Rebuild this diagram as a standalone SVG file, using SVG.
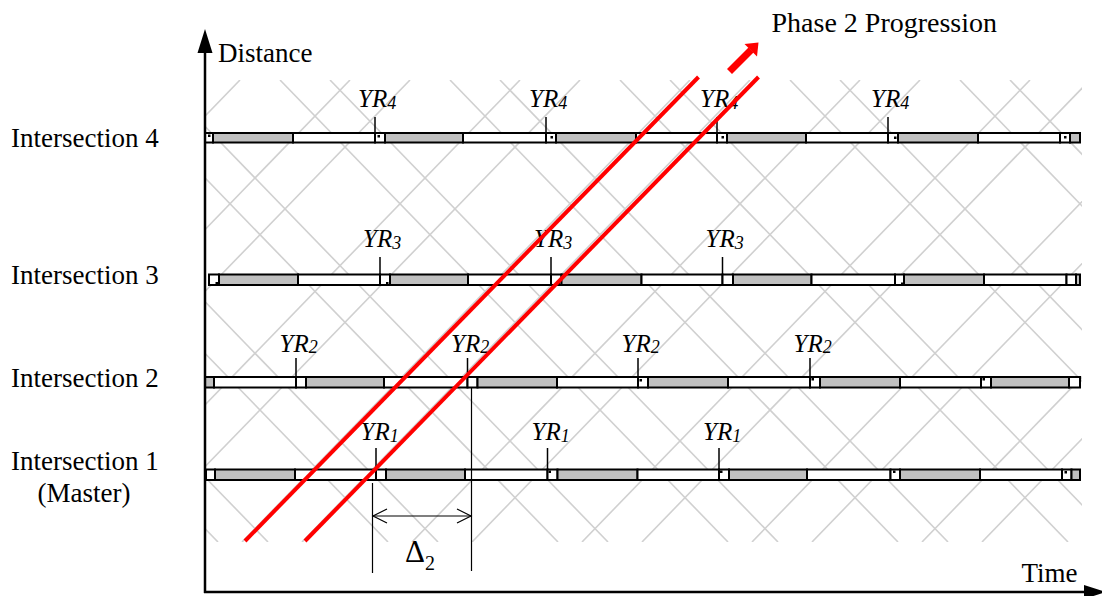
<svg xmlns="http://www.w3.org/2000/svg" width="1102" height="596" viewBox="0 0 1102 596" font-family="'Liberation Serif','Times New Roman',serif">
<style>
  text{font-family:"Liberation Serif","Times New Roman",serif;fill:#000}
  .lbl{font-size:27px}
  .yr{font-size:25px;font-style:italic}
  .sub{font-size:18px}
  .hatch line{stroke:#d0d0d0;stroke-width:1.6}
  .g{fill:#c0c0c0;stroke:#000;stroke-width:2}
  .w{fill:#fff;stroke:#000;stroke-width:2}
  .tick{stroke:#000;stroke-width:1.5}
  .dot{fill:#000}
  .red{stroke:#ff0000;stroke-width:4;stroke-linecap:butt}
  .thin{stroke:#000;stroke-width:1.2;fill:none}
  .axis{stroke:#000;stroke-width:2.5}
</style>
<defs>
  <clipPath id="hc"><rect x="205" y="80" width="877" height="462"/></clipPath>
</defs>
<rect width="1102" height="596" fill="#fff"/>

<g id="hatch" class="hatch" clip-path="url(#hc)">
  <line x1="-230" y1="80" x2="218" y2="542"/>
  <line x1="-180" y1="80" x2="268" y2="542"/>
  <line x1="-60" y1="80" x2="388" y2="542"/>
  <line x1="-10" y1="80" x2="438" y2="542"/>
  <line x1="110" y1="80" x2="558" y2="542"/>
  <line x1="160" y1="80" x2="608" y2="542"/>
  <line x1="280" y1="80" x2="728" y2="542"/>
  <line x1="330" y1="80" x2="778" y2="542"/>
  <line x1="450" y1="80" x2="898" y2="542"/>
  <line x1="500" y1="80" x2="948" y2="542"/>
  <line x1="620" y1="80" x2="1068" y2="542"/>
  <line x1="670" y1="80" x2="1118" y2="542"/>
  <line x1="790" y1="80" x2="1238" y2="542"/>
  <line x1="840" y1="80" x2="1288" y2="542"/>
  <line x1="960" y1="80" x2="1408" y2="542"/>
  <line x1="1010" y1="80" x2="1458" y2="542"/>
  <line x1="240" y1="80" x2="-208" y2="542"/>
  <line x1="350" y1="80" x2="-98" y2="542"/>
  <line x1="410" y1="80" x2="-38" y2="542"/>
  <line x1="520" y1="80" x2="72" y2="542"/>
  <line x1="580" y1="80" x2="132" y2="542"/>
  <line x1="690" y1="80" x2="242" y2="542"/>
  <line x1="750" y1="80" x2="302" y2="542"/>
  <line x1="860" y1="80" x2="412" y2="542"/>
  <line x1="920" y1="80" x2="472" y2="542"/>
  <line x1="1030" y1="80" x2="582" y2="542"/>
  <line x1="1090" y1="80" x2="642" y2="542"/>
  <line x1="1200" y1="80" x2="752" y2="542"/>
  <line x1="1260" y1="80" x2="812" y2="542"/>
  <line x1="1370" y1="80" x2="922" y2="542"/>
  <line x1="1430" y1="80" x2="982" y2="542"/>
  <line x1="1540" y1="80" x2="1092" y2="542"/>
</g>

<g id="labels">
  <text class="lbl" x="11" y="147">Intersection 4</text>
  <text class="lbl" x="11" y="284">Intersection 3</text>
  <text class="lbl" x="11" y="386.5">Intersection 2</text>
  <text class="lbl" x="11" y="470">Intersection 1</text>
  <text class="lbl" x="84" y="501.5" text-anchor="middle">(Master)</text>
</g>

<g id="intersection4">
  <rect class="w" x="205" y="133" width="8" height="9.5"/>
  <rect class="g" x="213" y="133" width="80" height="9.5"/>
  <rect class="w" x="293" y="133" width="82" height="9.5"/>
  <rect class="w" x="375" y="133" width="10" height="9.5"/>
  <rect class="g" x="385" y="133" width="78" height="9.5"/>
  <rect class="w" x="463" y="133" width="83" height="9.5"/>
  <rect class="w" x="546" y="133" width="10" height="9.5"/>
  <rect class="g" x="556" y="133" width="80" height="9.5"/>
  <rect class="w" x="636" y="133" width="81" height="9.5"/>
  <rect class="w" x="717" y="133" width="10" height="9.5"/>
  <rect class="g" x="727" y="133" width="79" height="9.5"/>
  <rect class="w" x="806" y="133" width="82" height="9.5"/>
  <rect class="w" x="888" y="133" width="10" height="9.5"/>
  <rect class="g" x="898" y="133" width="80" height="9.5"/>
  <rect class="w" x="978" y="133" width="82" height="9.5"/>
  <rect class="w" x="1060" y="133" width="10" height="9.5"/>
  <rect class="g" x="1070" y="133" width="10" height="9.5"/>
  <rect class="dot" x="208" y="134.5" width="2.5" height="2.5"/>
  <rect class="dot" x="377.5" y="135" width="2.5" height="2.5"/>
  <rect class="dot" x="550.5" y="136" width="2.5" height="2.5"/>
  <rect class="dot" x="721.5" y="136" width="2.5" height="2.5"/>
  <rect class="dot" x="894" y="136.5" width="2.5" height="2.5"/>
  <rect class="dot" x="1064" y="136" width="2.5" height="2.5"/>
  <line class="tick" x1="375" y1="117" x2="375" y2="133"/>
  <line class="tick" x1="546" y1="117" x2="546" y2="133"/>
  <line class="tick" x1="717" y1="117" x2="717" y2="133"/>
  <line class="tick" x1="888" y1="117" x2="888" y2="133"/>
  <text class="yr" x="358" y="107">YR<tspan class="sub" dy="1.5">4</tspan></text>
  <text class="yr" x="529" y="107">YR<tspan class="sub" dy="1.5">4</tspan></text>
  <text class="yr" x="700" y="107">YR<tspan class="sub" dy="1.5">4</tspan></text>
  <text class="yr" x="871" y="107">YR<tspan class="sub" dy="1.5">4</tspan></text>
</g>

<g id="intersection3">
  <rect class="w" x="209" y="274.5" width="10" height="10.5"/>
  <rect class="g" x="219" y="274.5" width="79" height="10.5"/>
  <rect class="w" x="298" y="274.5" width="82" height="10.5"/>
  <rect class="w" x="380" y="274.5" width="10" height="10.5"/>
  <rect class="g" x="390" y="274.5" width="78" height="10.5"/>
  <rect class="w" x="468" y="274.5" width="83" height="10.5"/>
  <rect class="w" x="551" y="274.5" width="10.5" height="10.5"/>
  <rect class="g" x="561.5" y="274.5" width="80" height="10.5"/>
  <rect class="w" x="641.5" y="274.5" width="81" height="10.5"/>
  <rect class="w" x="722.5" y="274.5" width="10.5" height="10.5"/>
  <rect class="g" x="733" y="274.5" width="78.5" height="10.5"/>
  <rect class="w" x="811.5" y="274.5" width="83.5" height="10.5"/>
  <rect class="w" x="895" y="274.5" width="9" height="10.5"/>
  <rect class="g" x="904" y="274.5" width="80" height="10.5"/>
  <rect class="w" x="984" y="274.5" width="82.5" height="10.5"/>
  <rect class="w" x="1066.5" y="274.5" width="9.5" height="10.5"/>
  <rect class="g" x="1076" y="274.5" width="4" height="10.5"/>
  <rect class="dot" x="215.5" y="282" width="2.5" height="2.5"/>
  <rect class="dot" x="386" y="282" width="2.5" height="2.5"/>
  <rect class="dot" x="557.5" y="282.5" width="2.5" height="2.5"/>
  <rect class="dot" x="901" y="282.5" width="2.5" height="2.5"/>
  <line class="tick" x1="380" y1="257" x2="380" y2="274.5"/>
  <line class="tick" x1="551" y1="257" x2="551" y2="274.5"/>
  <line class="tick" x1="722.5" y1="257" x2="722.5" y2="274.5"/>
  <text class="yr" x="363" y="247">YR<tspan class="sub" dy="1.5">3</tspan></text>
  <text class="yr" x="534" y="247">YR<tspan class="sub" dy="1.5">3</tspan></text>
  <text class="yr" x="705.5" y="247">YR<tspan class="sub" dy="1.5">3</tspan></text>
</g>

<g id="intersection2">
  <rect class="g" x="205" y="377" width="9" height="10.5"/>
  <rect class="w" x="214" y="377" width="82" height="10.5"/>
  <rect class="w" x="296" y="377" width="10" height="10.5"/>
  <rect class="g" x="306" y="377" width="78" height="10.5"/>
  <rect class="w" x="384" y="377" width="83.5" height="10.5"/>
  <rect class="w" x="467.5" y="377" width="10" height="10.5"/>
  <rect class="g" x="477.5" y="377" width="79.5" height="10.5"/>
  <rect class="w" x="557" y="377" width="81" height="10.5"/>
  <rect class="w" x="638" y="377" width="10" height="10.5"/>
  <rect class="g" x="648" y="377" width="80" height="10.5"/>
  <rect class="w" x="728" y="377" width="82" height="10.5"/>
  <rect class="w" x="810" y="377" width="10" height="10.5"/>
  <rect class="g" x="820" y="377" width="80" height="10.5"/>
  <rect class="w" x="900" y="377" width="81" height="10.5"/>
  <rect class="w" x="981" y="377" width="10" height="10.5"/>
  <rect class="g" x="991" y="377" width="78" height="10.5"/>
  <rect class="w" x="1069" y="377" width="11" height="10.5"/>
  <rect class="dot" x="639.5" y="379" width="2.5" height="2.5"/>
  <rect class="dot" x="811.5" y="378" width="2.5" height="2.5"/>
  <rect class="dot" x="982.5" y="378" width="2.5" height="2.5"/>
  <line class="tick" x1="296" y1="358" x2="296" y2="377"/>
  <line class="tick" x1="467.5" y1="358" x2="467.5" y2="377"/>
  <line class="tick" x1="638" y1="358" x2="638" y2="377"/>
  <line class="tick" x1="810" y1="358" x2="810" y2="377"/>
  <text class="yr" x="279.5" y="351.5">YR<tspan class="sub" dy="1.5">2</tspan></text>
  <text class="yr" x="451" y="351.5">YR<tspan class="sub" dy="1.5">2</tspan></text>
  <text class="yr" x="621.5" y="351.5">YR<tspan class="sub" dy="1.5">2</tspan></text>
  <text class="yr" x="793.5" y="351.5">YR<tspan class="sub" dy="1.5">2</tspan></text>
</g>

<g id="intersection1">
  <rect class="w" x="206" y="469.5" width="9" height="10.5"/>
  <rect class="g" x="215" y="469.5" width="80" height="10.5"/>
  <rect class="w" x="295" y="469.5" width="81" height="10.5"/>
  <rect class="w" x="376" y="469.5" width="10" height="10.5"/>
  <rect class="g" x="386" y="469.5" width="79" height="10.5"/>
  <rect class="w" x="465" y="469.5" width="82.5" height="10.5"/>
  <rect class="w" x="547.5" y="469.5" width="10" height="10.5"/>
  <rect class="g" x="557.5" y="469.5" width="80" height="10.5"/>
  <rect class="w" x="637.5" y="469.5" width="81.5" height="10.5"/>
  <rect class="w" x="719" y="469.5" width="10" height="10.5"/>
  <rect class="g" x="729" y="469.5" width="78" height="10.5"/>
  <rect class="w" x="807" y="469.5" width="83.5" height="10.5"/>
  <rect class="w" x="890.5" y="469.5" width="9.5" height="10.5"/>
  <rect class="g" x="900" y="469.5" width="80" height="10.5"/>
  <rect class="w" x="980" y="469.5" width="82" height="10.5"/>
  <rect class="w" x="1062" y="469.5" width="9.5" height="10.5"/>
  <rect class="g" x="1071.5" y="469.5" width="8.5" height="10.5"/>
  <rect class="dot" x="548.5" y="470.5" width="2.5" height="2.5"/>
  <rect class="dot" x="720" y="470.5" width="2.5" height="2.5"/>
  <rect class="dot" x="893" y="470.5" width="2.5" height="2.5"/>
  <rect class="dot" x="1064.5" y="471" width="2.5" height="2.5"/>
  <line class="tick" x1="376" y1="448" x2="376" y2="469.5"/>
  <line class="tick" x1="547.5" y1="448" x2="547.5" y2="469.5"/>
  <line class="tick" x1="719" y1="448" x2="719" y2="469.5"/>
  <text class="yr" x="360.5" y="440">YR<tspan class="sub" dy="1.5">1</tspan></text>
  <text class="yr" x="531.5" y="440">YR<tspan class="sub" dy="1.5">1</tspan></text>
  <text class="yr" x="703" y="440">YR<tspan class="sub" dy="1.5">1</tspan></text>
</g>

<g id="connectors">
  <line class="red" x1="245" y1="541" x2="698.5" y2="77"/>
  <line class="red" x1="305" y1="541" x2="758.5" y2="77"/>
  <line x1="729.5" y1="71.5" x2="751" y2="50" stroke="#ff0000" stroke-width="7"/>
  <polygon points="758.5,42.5 744.5,44 757,56.5" fill="#ff0000"/>
  <line class="thin" x1="372.5" y1="483" x2="372.5" y2="573"/>
  <line class="thin" x1="471.5" y1="388" x2="471.5" y2="571"/>
  <line class="thin" x1="373" y1="516" x2="471" y2="516"/>
  <polyline class="thin" points="387,509 373,516 387,523"/>
  <polyline class="thin" points="457,509 471,516 457,523"/>
</g>

<g id="axes">
  <line class="axis" x1="205" y1="593" x2="205" y2="50"/>
  <polygon points="205,29 197.5,53 212.5,53" fill="#000"/>
  <line class="axis" x1="204" y1="592" x2="1088" y2="592"/>
  <polygon points="1106,592 1084,585 1084,599" fill="#000"/>
  <text class="lbl" x="218" y="62" font-size="26">Distance</text>
  <text class="lbl" x="1021.5" y="581.5">Time</text>
  <text x="771.5" y="31.5" font-size="28">Phase 2 Progression</text>
  <text x="405" y="562" font-size="31">Δ<tspan font-size="20" dy="8">2</tspan></text>
</g>
</svg>
